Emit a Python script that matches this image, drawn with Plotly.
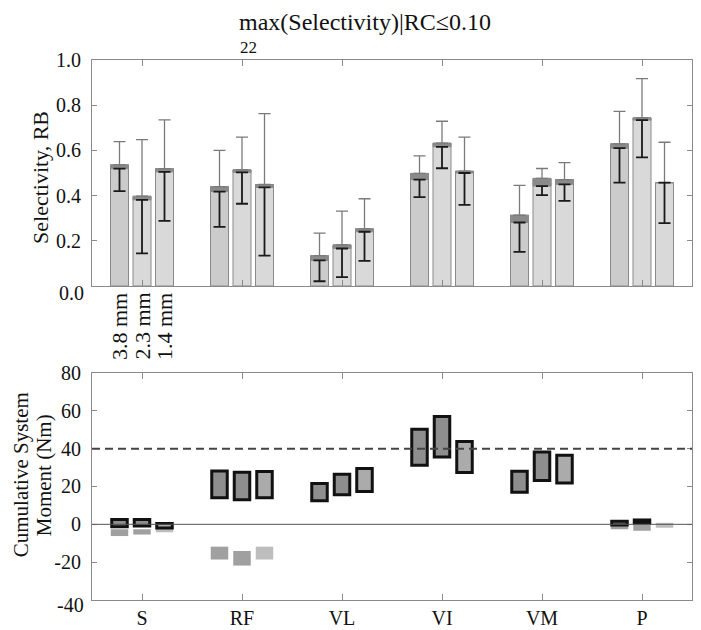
import plotly.graph_objects as go
import numpy as np

# ---------------- data ----------------
muscles = ["S", "RF", "VL", "VI", "VM", "P"]
sizes = ["3.8 mm", "2.3 mm", "1.4 mm"]

# top panel: selectivity (bar top), dark band bottom, error caps
sel_top = {
    "3.8 mm": [0.536, 0.440, 0.134, 0.498, 0.313, 0.629],
    "2.3 mm": [0.397, 0.514, 0.182, 0.632, 0.476, 0.744],
    "1.4 mm": [0.519, 0.449, 0.253, 0.508, 0.471, 0.457],
}
sel_band = {
    "3.8 mm": [0.519, 0.418, 0.113, 0.471, 0.281, 0.610],
    "2.3 mm": [0.381, 0.503, 0.166, 0.616, 0.442, 0.734],
    "1.4 mm": [0.505, 0.436, 0.240, 0.500, 0.450, 0.457],
}
sel_hi = {
    "3.8 mm": [0.639, 0.600, 0.234, 0.576, 0.445, 0.773],
    "2.3 mm": [0.648, 0.659, 0.331, 0.729, 0.520, 0.918],
    "1.4 mm": [0.735, 0.763, 0.386, 0.659, 0.546, 0.636],
}
sel_lo = {
    "3.8 mm": [0.420, 0.262, 0.021, 0.393, 0.151, 0.457],
    "2.3 mm": [0.144, 0.364, 0.039, 0.521, 0.402, 0.569],
    "1.4 mm": [0.288, 0.134, 0.111, 0.359, 0.377, 0.278],
}

# bottom panel: cumulative system moment (Nm) boxes [low, high]
mom_low = {
    "3.8 mm": [-1.3, 14.0, 12.4, 31.2, 17.0, -0.4],
    "2.3 mm": [-0.9, 13.0, 15.6, 35.6, 23.2, 0.8],
    "1.4 mm": [-1.9, 14.0, 17.4, 27.4, 21.9, None],
}
mom_high = {
    "3.8 mm": [2.6, 28.2, 21.6, 50.3, 28.0, 1.6],
    "2.3 mm": [2.6, 27.5, 26.5, 57.0, 38.2, 2.3],
    "1.4 mm": [0.5, 27.9, 29.5, 43.8, 36.5, None],
}
neg_low = {
    "3.8 mm": [-6.2, -18.6, None, None, None, -2.6],
    "2.3 mm": [-5.4, -21.8, None, None, None, -3.4],
    "1.4 mm": [-4.2, -18.6, None, None, None, -1.8],
}
neg_high = {
    "3.8 mm": [-2.6, -11.8, None, None, None, -0.4],
    "2.3 mm": [-2.6, -14.1, None, None, None, 0.8],
    "1.4 mm": [-1.9, -11.8, None, None, None, 0.8],
}
moment_threshold = 40

sel_ticks = [0.0, 0.2, 0.4, 0.6, 0.8, 1.0]
sel_ticktext = ["", "0.2", "0.4", "0.6", "0.8", "1.0"]
mom_ticks = [-40, -20, 0, 20, 40, 60, 80]
mom_ticktext = ["", "-20", "0", "20", "40", "60", "80"]

# ---------------- styles ----------------
FONT = "Liberation Serif"
TXT = "#111111"
offsets = [-0.225, 0.0, 0.225]
top_fill = ["#cbcbcb", "#d9d9d9", "#d9d9d9"]
box_fill = ["#8e8e8e", "#8e8e8e", "#ababab"]
neg_fill = ["#a0a0a0", "#a0a0a0", "#bdbdbd"]
frame = "#8a8a8a"

fig = go.Figure()
base_x = np.arange(1, len(muscles) + 1)

for k, s in enumerate(sizes):
    xs = base_x + offsets[k]
    top = np.array(sel_top[s])
    band = np.array(sel_band[s])
    hi = np.array(sel_hi[s])
    lo = np.array(sel_lo[s])
    fig.add_trace(go.Bar(x=xs, y=top, width=0.18, marker=dict(color=top_fill[k], line=dict(color="#8a8a8a", width=1)),
                         xaxis="x", yaxis="y", showlegend=False, hoverinfo="skip"))
    fig.add_trace(go.Bar(x=xs, y=top - band, base=band, width=0.18,
                         marker=dict(color="#8a8a8a", line=dict(color="#8a8a8a", width=1)),
                         xaxis="x", yaxis="y", showlegend=False, hoverinfo="skip"))
    fig.add_trace(go.Scatter(x=xs, y=top, mode="markers", marker=dict(size=1, opacity=0),
                             error_y=dict(type="data", symmetric=False, array=hi - top, arrayminus=np.zeros(len(top)),
                                          color="#7a7a7a", thickness=1.3, width=6),
                             xaxis="x", yaxis="y", showlegend=False, hoverinfo="skip"))
    fig.add_trace(go.Scatter(x=xs, y=band, mode="markers", marker=dict(size=1, opacity=0),
                             error_y=dict(type="data", symmetric=False, array=np.zeros(len(band)), arrayminus=band - lo,
                                          color="#1a1a1a", thickness=1.8, width=6),
                             xaxis="x", yaxis="y", showlegend=False, hoverinfo="skip"))

for k, s in enumerate(sizes):
    xs = base_x + offsets[k]
    nl, nh = neg_low[s], neg_high[s]
    nx = [x for x, a in zip(xs, nl) if a is not None]
    nb = [a for a in nl if a is not None]
    nhh = [b - a for a, b in zip(nl, nh) if a is not None]
    fig.add_trace(go.Bar(x=nx, y=nhh, base=nb, width=0.175, marker=dict(color=neg_fill[k], line=dict(width=0)),
                         xaxis="x2", yaxis="y2", showlegend=False, hoverinfo="skip"))
for k, s in enumerate(sizes):
    xs = base_x + offsets[k]
    ml, mh = mom_low[s], mom_high[s]
    bx = [x for x, a in zip(xs, ml) if a is not None]
    bb = [a for a in ml if a is not None]
    bh = [b - a for a, b in zip(ml, mh) if a is not None]
    fig.add_trace(go.Bar(x=bx, y=bh, base=bb, width=0.155,
                         marker=dict(color=box_fill[k], line=dict(color="#111111", width=3)),
                         xaxis="x2", yaxis="y2", showlegend=False, hoverinfo="skip"))

tickfont = dict(family=FONT, size=20, color=TXT)
ax_common = dict(showline=True, linecolor=frame, linewidth=1, mirror="ticks", ticks="inside",
                 tickcolor=frame, showgrid=False, zeroline=False, tickfont=tickfont)

fig.update_layout(
    width=693, height=622,
    margin=dict(l=84, r=9, t=52, b=30),
    paper_bgcolor="white", plot_bgcolor="white",
    barmode="overlay",
    showlegend=False,
    xaxis=dict(domain=[0, 1], anchor="y", range=[0.5, 6.5], tickvals=list(base_x), showticklabels=False,
               ticklen=6, automargin=False, **ax_common),
    yaxis=dict(domain=[0.5815, 1], anchor="x", range=[0, 1], tickvals=sel_ticks, ticktext=sel_ticktext,
               ticklen=5, ticklabelstandoff=6, automargin=False, **ax_common),
    yaxis3=dict(overlaying="y", anchor="x", side="left", range=[0, 1], tickvals=sel_ticks, ticks="outside",
                ticklen=4, tickcolor=frame, showticklabels=False, showline=False, showgrid=False, zeroline=False),
    xaxis2=dict(domain=[0, 1], anchor="y2", range=[0.5, 6.5], tickvals=list(base_x), ticktext=muscles,
                ticklen=6, automargin=False, **ax_common),
    yaxis2=dict(domain=[0, 0.4204], anchor="x2", range=[-40, 80], tickvals=mom_ticks, ticktext=mom_ticktext,
                ticklen=5, ticklabelstandoff=6, automargin=False, **ax_common),
    yaxis4=dict(overlaying="y2", anchor="x2", side="left", range=[-40, 80], tickvals=mom_ticks, ticks="outside",
                ticklen=4, tickcolor=frame, showticklabels=False, showline=False, showgrid=False, zeroline=False),
)

fig.add_shape(type="line", xref="x2 domain", yref="y2", x0=0, x1=1, y0=0, y1=0,
              line=dict(color="#555555", width=1), layer="above")
fig.add_shape(type="line", xref="x2 domain", yref="y2", x0=0, x1=1, y0=moment_threshold, y1=moment_threshold,
              line=dict(color="#444444", width=2, dash="8px,5px"), layer="above")

# lowest tick labels sit slightly below their ticks in the original
fig.add_annotation(x=0, y=sel_ticks[0], xref="paper", yref="y", text=f"{sel_ticks[0]:.1f}", showarrow=False,
                   xanchor="right", yanchor="middle", xshift=-6, yshift=-7, font=tickfont)
fig.add_annotation(x=0, y=mom_ticks[0], xref="paper", yref="y2", text=str(mom_ticks[0]), showarrow=False,
                   xanchor="right", yanchor="middle", xshift=-6, yshift=-5, font=tickfont)

# rotated electrode-size labels under first group
for k, s in enumerate(sizes):
    fig.add_annotation(x=base_x[0] + offsets[k], y=0, xref="x", yref="y", text=s, textangle=-90,
                       showarrow=False, xanchor="center", yanchor="top", yshift=-5,
                       font=dict(family=FONT, size=22, color=TXT))

# title (paper coordinates: plot area is 600 x 540 px)
fig.add_annotation(x=0.455, y=1.071, xref="paper", yref="paper", text="max(Selectivity)|RC≤0.10",
                   showarrow=False, xanchor="center", yanchor="middle", borderpad=0,
                   font=dict(family=FONT, size=24, color=TXT))
fig.add_annotation(x=0.26, y=1.024, xref="paper", yref="paper", text="22",
                   showarrow=False, xanchor="center", yanchor="middle",
                   font=dict(family=FONT, size=17, color=TXT))

# axis titles
fig.add_annotation(x=-0.087, y=0.783, xref="paper", yref="paper", text="Selectivity, RB", textangle=-90,
                   showarrow=False, xanchor="center", yanchor="middle",
                   font=dict(family=FONT, size=22, color=TXT))
fig.add_annotation(x=-0.1183, y=0.231, xref="paper", yref="paper", text="Cumulative System",
                   textangle=-90, showarrow=False, xanchor="center", yanchor="middle", borderpad=0,
                   font=dict(family=FONT, size=21, color=TXT))
fig.add_annotation(x=-0.08, y=0.231, xref="paper", yref="paper", text="Moment (Nm)",
                   textangle=-90, showarrow=False, xanchor="center", yanchor="middle", borderpad=0,
                   font=dict(family=FONT, size=21, color=TXT))

fig.write_html("out.html")
